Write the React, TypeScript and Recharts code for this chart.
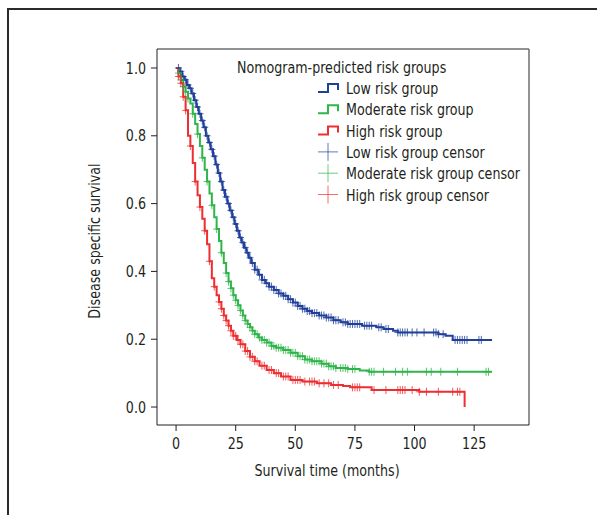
import { ComposedChart, Line, Scatter, XAxis, YAxis, ReferenceLine } from 'recharts';

// Kaplan-Meier step points (time in months, survival after the event)
const lowTimes = [0, 1.5, 2.5, 3.5, 4.5, 5.5, 6.5, 7.5, 8.5, 9.5, 10.5, 11.5, 12.5, 13.5, 14.5, 15.5, 16.5, 17.5, 18.5, 19.5, 20.5, 21.5, 22.5, 23.5, 24.5, 25.5, 26.5, 27.5, 28.5, 29.5, 30.5, 31.5, 33, 34.5, 36, 37.5, 39, 41, 43, 45, 47, 49, 51, 53, 55, 57, 60, 63, 66, 69, 72, 78, 84, 87, 91, 93, 110, 113, 116, 132.5];
const lowSurv = [1.0, 0.99, 0.975, 0.965, 0.95, 0.94, 0.925, 0.905, 0.885, 0.865, 0.845, 0.825, 0.8, 0.78, 0.76, 0.74, 0.715, 0.69, 0.665, 0.64, 0.62, 0.6, 0.58, 0.56, 0.54, 0.52, 0.5, 0.485, 0.47, 0.455, 0.44, 0.425, 0.405, 0.39, 0.375, 0.365, 0.355, 0.345, 0.335, 0.328, 0.318, 0.308, 0.298, 0.29, 0.283, 0.277, 0.27, 0.264, 0.256, 0.25, 0.245, 0.24, 0.235, 0.23, 0.225, 0.22, 0.215, 0.21, 0.198, 0.198];
const lowCensor = [1, 2, 3, 4, 5, 6, 7, 8, 9, 10, 11, 12, 13, 14, 15, 16, 17, 18, 19, 20, 21, 22, 23, 24, 25, 26, 27, 28, 29, 30, 31, 32, 33, 34, 35, 36, 37, 38, 39, 40, 41, 42, 43, 44, 45, 46, 47, 48, 49, 50, 51, 52, 53, 54, 55, 56, 57, 58, 59, 60, 61, 62, 63, 64, 65, 66, 67, 68, 70, 71, 72, 73, 74, 75, 76, 77, 79, 80, 81, 82, 85, 86, 88, 89, 93, 94, 95, 96, 97, 99, 101, 104, 108, 109, 110, 112, 117, 118, 119, 120, 121, 122, 127, 128];

const modTimes = [0, 1, 2, 3, 4, 5, 6, 7, 8, 9, 10, 11, 12, 13, 14, 15, 16, 17, 18, 19, 20, 21, 22, 23, 24, 25, 26, 27, 28, 29, 30, 31, 32, 33, 34.5, 36, 38, 40, 42, 45, 48, 51, 54, 57, 61, 64, 67, 72, 77, 81, 132.5];
const modSurv = [1.0, 0.985, 0.965, 0.945, 0.93, 0.91, 0.895, 0.865, 0.835, 0.805, 0.77, 0.735, 0.7, 0.665, 0.63, 0.595, 0.56, 0.525, 0.49, 0.455, 0.425, 0.395, 0.37, 0.35, 0.33, 0.315, 0.3, 0.285, 0.27, 0.255, 0.245, 0.235, 0.225, 0.215, 0.205, 0.198, 0.19, 0.18, 0.175, 0.168, 0.16, 0.15, 0.14, 0.135, 0.128, 0.12, 0.115, 0.112, 0.108, 0.104, 0.104];
const modCensor = [1, 2, 3, 4, 5, 7, 9, 11, 13, 15, 17, 19, 21, 22, 23, 24, 25, 26, 27, 28, 29, 30, 31, 32, 33, 34, 35, 36, 37, 38, 39, 40, 41, 42, 43, 44, 45, 46, 47, 48, 49, 50, 51, 52, 53, 54, 55, 56, 57, 58, 59, 60, 61, 62, 63, 64, 65, 66, 67, 69, 70, 71, 72, 74, 75, 81, 82, 83, 87, 92, 95, 97, 105, 107, 111, 118, 130, 131];

const highTimes = [0, 1, 2, 3, 4, 5, 6, 7, 8, 9, 10, 11, 12, 13, 14, 15, 16, 17, 18, 19, 20, 21, 22, 23, 24, 25.5, 27, 29, 31, 33, 35, 38, 41, 44, 48, 53, 59, 65, 70, 73, 82, 102, 121];
const highSurv = [1.0, 0.975, 0.955, 0.915, 0.875, 0.8, 0.77, 0.72, 0.665, 0.625, 0.59, 0.555, 0.52, 0.48, 0.43, 0.38, 0.355, 0.33, 0.31, 0.29, 0.27, 0.255, 0.24, 0.225, 0.21, 0.198, 0.185, 0.165, 0.148, 0.135, 0.122, 0.109, 0.1, 0.09, 0.08, 0.075, 0.07, 0.065, 0.062, 0.058, 0.05, 0.045, 0.0];
const highCensor = [1, 2, 3, 4, 6, 8, 10, 12, 14, 16, 18, 19, 20, 21, 22, 23, 24, 25, 26, 27, 28, 29, 30, 31, 32, 33, 34, 36, 37, 39, 40, 42, 43, 45, 46, 47, 49, 50, 51, 52, 54, 56, 57, 58, 60, 62, 64, 66, 68, 74, 75, 76, 77, 83, 88, 93, 94, 95, 96, 99, 102, 105, 110, 116, 118, 119];

const xTicks = [0, 25, 50, 75, 100, 125];
const yTicks = [0, 0.2, 0.4, 0.6, 0.8, 1.0];

const BLUE = '#21409a';
const GREEN = '#2fb54a';
const RED = '#ee2e31';
const INK = '#231f20';
const FONT = "'DejaVu Sans Condensed', 'Roboto', sans-serif";
const SQUEEZE = 0.88; // the original face is narrower than any installed one

const survAt = (times: number[], surv: number[], t: number) => {
  let s = surv[0];
  for (let i = 0; i < times.length; i++) if (times[i] <= t) s = surv[i];
  return s;
};

const steps = (times: number[], surv: number[]) => times.map((t, i) => ({ t, s: surv[i] }));
const censors = (c: number[], times: number[], surv: number[]) =>
  c.map((t) => ({ t, s: survAt(times, surv, t) }));

const groups = [
  { name: 'Low risk group', color: BLUE, data: steps(lowTimes, lowSurv), marks: censors(lowCensor, lowTimes, lowSurv) },
  { name: 'Moderate risk group', color: GREEN, data: steps(modTimes, modSurv), marks: censors(modCensor, modTimes, modSurv) },
  { name: 'High risk group', color: RED, data: steps(highTimes, highSurv), marks: censors(highCensor, highTimes, highSurv) },
];

const cross = (color: string) => (props: any) => {
  const { cx, cy } = props;
  return (
    <g stroke={color} strokeWidth={1} strokeOpacity={0.8}>
      <line x1={cx - 3.5} x2={cx + 3.5} y1={cy} y2={cy} />
      <line x1={cx} x2={cx} y1={cy - 4} y2={cy + 4} />
    </g>
  );
};

// text drawn at (x, y) and squeezed horizontally
function Narrow({ x, y, rotate = 0, anchor = 'start', dy = 0, children }: any) {
  return (
    <g transform={`translate(${x} ${y}) rotate(${rotate}) scale(${SQUEEZE} 1)`}>
      <text x={0} y={0} dy={dy} fontSize={16} fill={INK} fontFamily={FONT} textAnchor={anchor}>
        {children}
      </text>
    </g>
  );
}

const XTick = (props: any) => (
  <Narrow x={props.x} y={props.y + 3} anchor="middle" dy="0.71em">
    {props.payload.value}
  </Narrow>
);

const YTick = (props: any) => (
  <Narrow x={props.x} y={props.y} anchor="end" dy="0.355em">
    {Number(props.payload.value).toFixed(1)}
  </Narrow>
);

function LegendBox() {
  const rows = [
    { label: 'Low risk group', color: BLUE, kind: 'step' },
    { label: 'Moderate risk group', color: GREEN, kind: 'step' },
    { label: 'High risk group', color: RED, kind: 'step' },
    { label: 'Low risk group censor', color: BLUE, kind: 'cross' },
    { label: 'Moderate risk group censor', color: GREEN, kind: 'cross' },
    { label: 'High risk group censor', color: RED, kind: 'cross' },
  ];
  return (
    <svg width={597} height={515} style={{ position: 'absolute', left: 0, top: 0 }}>
      <Narrow x={237} y={73}>Nomogram-predicted risk groups</Narrow>
      {rows.map((r, i) => {
        const y = 88 + i * 21.3;
        return (
          <g key={r.label}>
            {r.kind === 'step' ? (
              <path
                d={`M318,${y + 4} H328 V${y - 4} H338 V${y + 2}`}
                fill="none"
                stroke={r.color}
                strokeWidth={2}
              />
            ) : (
              <g stroke={r.color} strokeWidth={1} strokeOpacity={0.7}>
                <line x1={318} x2={338} y1={y} y2={y} />
                <line x1={328} x2={328} y1={y - 9} y2={y + 9} />
              </g>
            )}
            <Narrow x={346} y={y + 6}>{r.label}</Narrow>
          </g>
        );
      })}
      <Narrow x={95} y={241} rotate={-90} anchor="middle" dy={5}>
        Disease specific survival
      </Narrow>
      <Narrow x={327} y={476} anchor="middle">Survival time (months)</Narrow>
    </svg>
  );
}

export default function App() {
  return (
    <div
      style={{
        position: 'fixed',
        left: 0,
        top: 0,
        width: 597,
        height: 515,
        overflow: 'hidden',
        background: '#fff',
      }}
    >
      <div
        style={{
          position: 'absolute',
          left: 7,
          top: 8,
          width: 700,
          height: 600,
          border: '2px solid #2b2b2b',
        }}
      />
      <div style={{ position: 'absolute', left: 0, top: 0 }}>
        <ComposedChart width={597} height={515} margin={{ top: 49, right: 68, bottom: 50, left: 97 }}>
          <XAxis
            dataKey="t"
            type="number"
            domain={[-8, 148]}
            ticks={xTicks}
            allowDataOverflow
            stroke={INK}
            tickSize={6}
            tickMargin={4}
            height={40}
            tick={XTick}
          />
          <YAxis
            dataKey="s"
            type="number"
            domain={[-0.053, 1.056]}
            ticks={yTicks}
            allowDataOverflow
            stroke={INK}
            tickSize={6}
            tickMargin={5}
            width={60}
            tick={YTick}
          />
          <ReferenceLine x={148} stroke="#6d6e71" strokeWidth={1.5} ifOverflow="visible" />
          <ReferenceLine y={1.056} stroke="#6d6e71" strokeWidth={1.5} ifOverflow="visible" />
          {groups.map((g) => (
            <Line
              key={g.name}
              data={g.data}
              dataKey="s"
              type="stepAfter"
              stroke={g.color}
              strokeWidth={2}
              dot={false}
              activeDot={false}
              isAnimationActive={false}
            />
          ))}
          {groups.map((g) => (
            <Scatter
              key={g.name + ' censor'}
              data={g.marks}
              dataKey="s"
              shape={cross(g.color)}
              isAnimationActive={false}
            />
          ))}
        </ComposedChart>
      </div>
      <LegendBox />
    </div>
  );
}
